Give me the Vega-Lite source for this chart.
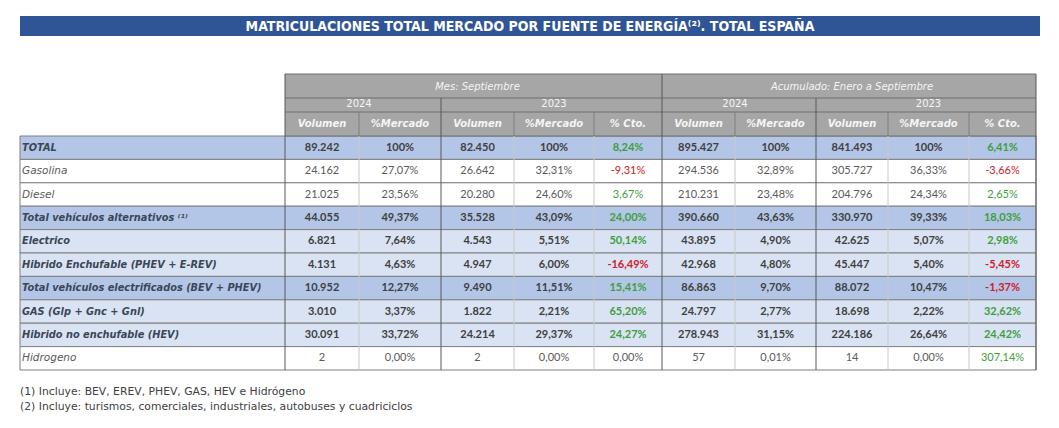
{
  "$schema": "https://vega.github.io/schema/vega-lite/v6.json",
  "width": 1059,
  "height": 428,
  "padding": 0,
  "autosize": {"type": "none"},
  "background": "white",
  "config": {"view": {"stroke": null}, "font": "Lato"},
  "datasets": {
    "filas": [
      {"fila": "TOTAL", "tipo": "total", "m24v": "89.242", "m24p": "100%", "m23v": "82.450", "m23p": "100%", "mcto": "8,24%", "a24v": "895.427", "a24p": "100%", "a23v": "841.493", "a23p": "100%", "acto": "6,41%"},
      {"fila": "Gasolina", "tipo": "combustión", "m24v": "24.162", "m24p": "27,07%", "m23v": "26.642", "m23p": "32,31%", "mcto": "-9,31%", "a24v": "294.536", "a24p": "32,89%", "a23v": "305.727", "a23p": "36,33%", "acto": "-3,66%"},
      {"fila": "Diesel", "tipo": "combustión", "m24v": "21.025", "m24p": "23,56%", "m23v": "20.280", "m23p": "24,60%", "mcto": "3,67%", "a24v": "210.231", "a24p": "23,48%", "a23v": "204.796", "a23p": "24,34%", "acto": "2,65%"},
      {"fila": "Total vehículos alternativos ⁽¹⁾", "tipo": "agregado", "m24v": "44.055", "m24p": "49,37%", "m23v": "35.528", "m23p": "43,09%", "mcto": "24,00%", "a24v": "390.660", "a24p": "43,63%", "a23v": "330.970", "a23p": "39,33%", "acto": "18,03%"},
      {"fila": "Electrico", "tipo": "alternativo", "m24v": "6.821", "m24p": "7,64%", "m23v": "4.543", "m23p": "5,51%", "mcto": "50,14%", "a24v": "43.895", "a24p": "4,90%", "a23v": "42.625", "a23p": "5,07%", "acto": "2,98%"},
      {"fila": "Hibrido Enchufable (PHEV + E-REV)", "tipo": "alternativo", "m24v": "4.131", "m24p": "4,63%", "m23v": "4.947", "m23p": "6,00%", "mcto": "-16,49%", "a24v": "42.968", "a24p": "4,80%", "a23v": "45.447", "a23p": "5,40%", "acto": "-5,45%"},
      {"fila": "Total vehículos electrificados (BEV + PHEV)", "tipo": "agregado", "m24v": "10.952", "m24p": "12,27%", "m23v": "9.490", "m23p": "11,51%", "mcto": "15,41%", "a24v": "86.863", "a24p": "9,70%", "a23v": "88.072", "a23p": "10,47%", "acto": "-1,37%"},
      {"fila": "GAS (Glp + Gnc + Gnl)", "tipo": "alternativo", "m24v": "3.010", "m24p": "3,37%", "m23v": "1.822", "m23p": "2,21%", "mcto": "65,20%", "a24v": "24.797", "a24p": "2,77%", "a23v": "18.698", "a23p": "2,22%", "acto": "32,62%"},
      {"fila": "Hibrido no enchufable (HEV)", "tipo": "alternativo", "m24v": "30.091", "m24p": "33,72%", "m23v": "24.214", "m23p": "29,37%", "mcto": "24,27%", "a24v": "278.943", "a24p": "31,15%", "a23v": "224.186", "a23p": "26,64%", "acto": "24,42%"},
      {"fila": "Hidrogeno", "tipo": "otro", "m24v": "2", "m24p": "0,00%", "m23v": "2", "m23p": "0,00%", "mcto": "0,00%", "a24v": "57", "a24p": "0,01%", "a23v": "14", "a23p": "0,00%", "acto": "307,14%"}
    ],
    "columnas": [
      {"key": "m24v", "col": 0, "cab": "Volumen"},
      {"key": "m24p", "col": 1, "cab": "%Mercado"},
      {"key": "m23v", "col": 2, "cab": "Volumen"},
      {"key": "m23p", "col": 3, "cab": "%Mercado"},
      {"key": "mcto", "col": 4, "cab": "% Cto."},
      {"key": "a24v", "col": 5, "cab": "Volumen"},
      {"key": "a24p", "col": 6, "cab": "%Mercado"},
      {"key": "a23v", "col": 7, "cab": "Volumen"},
      {"key": "a23p", "col": 8, "cab": "%Mercado"},
      {"key": "acto", "col": 9, "cab": "% Cto."}
    ],
    "cabecera": [
      {"t": "Mes: Septiembre", "xc": 2, "nivel": 1, "estilo": "italic"},
      {"t": "Acumulado: Enero a Septiembre", "xc": 7, "nivel": 1, "estilo": "italic"},
      {"t": "2024", "xc": 0.5, "nivel": 2, "estilo": "normal"},
      {"t": "2023", "xc": 3, "nivel": 2, "estilo": "normal"},
      {"t": "2024", "xc": 5.5, "nivel": 2, "estilo": "normal"},
      {"t": "2023", "xc": 8, "nivel": 2, "estilo": "normal"}
    ],
    "lineas": [
      {"b": 0, "top": 2, "bottom": 15, "k": "mayor"},
      {"b": 5, "top": 2, "bottom": 15, "k": "mayor"},
      {"b": 10, "top": 2, "bottom": 15, "k": "mayor"},
      {"b": 2, "top": 3, "bottom": 15, "k": "mayor"},
      {"b": 7, "top": 3, "bottom": 15, "k": "mayor"},
      {"b": 1, "top": 4, "bottom": 5, "k": "cab"},
      {"b": 3, "top": 4, "bottom": 5, "k": "cab"},
      {"b": 4, "top": 4, "bottom": 5, "k": "cab"},
      {"b": 6, "top": 4, "bottom": 5, "k": "cab"},
      {"b": 8, "top": 4, "bottom": 5, "k": "cab"},
      {"b": 9, "top": 4, "bottom": 5, "k": "cab"},
      {"b": 1, "top": 5, "bottom": 15, "k": "menor"},
      {"b": 3, "top": 5, "bottom": 15, "k": "menor"},
      {"b": 4, "top": 5, "bottom": 15, "k": "menor"},
      {"b": 6, "top": 5, "bottom": 15, "k": "menor"},
      {"b": 8, "top": 5, "bottom": 15, "k": "menor"},
      {"b": 9, "top": 5, "bottom": 15, "k": "menor"}
    ],
    "notas": [
      {"t": "(1) Incluye: BEV, EREV, PHEV, GAS, HEV e Hidrógeno", "n": 16},
      {"t": "(2) Incluye: turismos, comerciales, industriales, autobuses y cuadriciclos", "n": 17}
    ]
  },
  "resolve": {"scale": {"x": "independent", "y": "independent", "color": "independent"}},
  "layer": [
    {
      "data": {"values": [{}]},
      "mark": {"type": "rect", "color": "#2F5597"},
      "encoding": {
        "x": {"datum": -1, "type": "quantitative", "axis": null, "scale": {"type": "linear", "domain": [-1, 0, 1, 2, 3, 4, 5, 6, 7, 8, 9, 10], "range": [20, 285, 359, 441, 514, 594, 662, 735, 816, 888, 969, 1036], "nice": false, "zero": false}},
        "x2": {"datum": 10.06},
        "y": {"datum": 0, "type": "quantitative", "axis": null, "scale": {"type": "linear", "domain": [0, 1, 2, 3, 4, 5, 15, 16, 17], "range": [16, 36, 74, 98, 112, 136, 370, 392, 407], "nice": false, "zero": false}},
        "y2": {"datum": 1}
      }
    },
    {
      "data": {"values": [{"t": "MATRICULACIONES TOTAL MERCADO POR FUENTE DE ENERGÍA⁽²⁾. TOTAL ESPAÑA"}]},
      "mark": {"type": "text", "font": "DejaVu Sans Condensed", "fontWeight": "bold", "fontSize": 14, "color": "white", "align": "center", "baseline": "middle"},
      "encoding": {
        "text": {"field": "t"},
        "x": {"datum": 3.2, "type": "quantitative", "axis": null, "scale": {"type": "linear", "domain": [-1, 0, 1, 2, 3, 4, 5, 6, 7, 8, 9, 10], "range": [20, 285, 359, 441, 514, 594, 662, 735, 816, 888, 969, 1036], "nice": false, "zero": false}},
        "y": {"datum": 0.55, "type": "quantitative", "axis": null, "scale": {"type": "linear", "domain": [0, 1, 2, 3, 4, 5, 15, 16, 17], "range": [16, 36, 74, 98, 112, 136, 370, 392, 407], "nice": false, "zero": false}}
      }
    },
    {
      "data": {"name": "filas"},
      "mark": {"type": "rect", "stroke": "#7F7F7F", "strokeWidth": 1},
      "encoding": {
        "x": {"datum": -1, "type": "quantitative", "axis": null, "scale": {"type": "linear", "domain": [-1, 0, 1, 2, 3, 4, 5, 6, 7, 8, 9, 10], "range": [20, 285, 359, 441, 514, 594, 662, 735, 816, 888, 969, 1036], "nice": false, "zero": false}},
        "x2": {"datum": 10},
        "y": {"field": "fila", "type": "nominal", "axis": null, "sort": null, "scale": {"type": "band", "domain": ["TOTAL", "Gasolina", "Diesel", "Total vehículos alternativos ⁽¹⁾", "Electrico", "Hibrido Enchufable (PHEV + E-REV)", "Total vehículos electrificados (BEV + PHEV)", "GAS (Glp + Gnc + Gnl)", "Hibrido no enchufable (HEV)", "Hidrogeno"], "range": [136, 370], "paddingInner": 0, "paddingOuter": 0}},
        "fill": {"field": "tipo", "type": "nominal", "legend": null, "scale": {"domain": ["total", "combustión", "agregado", "alternativo", "otro"], "range": ["#B4C6E7", "#FFFFFF", "#B4C6E7", "#DAE3F3", "#FFFFFF"]}}
      }
    },
    {
      "data": {"values": [{}]},
      "mark": {"type": "rect", "color": "#A6A6A6"},
      "encoding": {
        "x": {"datum": 0, "type": "quantitative", "axis": null, "scale": {"type": "linear", "domain": [-1, 0, 1, 2, 3, 4, 5, 6, 7, 8, 9, 10], "range": [20, 285, 359, 441, 514, 594, 662, 735, 816, 888, 969, 1036], "nice": false, "zero": false}},
        "x2": {"datum": 10},
        "y": {"datum": 2, "type": "quantitative", "axis": null, "scale": {"type": "linear", "domain": [0, 1, 2, 3, 4, 5, 15, 16, 17], "range": [16, 36, 74, 98, 112, 136, 370, 392, 407], "nice": false, "zero": false}},
        "y2": {"datum": 5}
      }
    },
    {
      "data": {"values": [{"h": 2}, {"h": 3}, {"h": 4}, {"h": 5}]},
      "mark": {"type": "rule", "color": "#6F6F6F", "strokeWidth": 1},
      "encoding": {
        "x": {"datum": 0, "type": "quantitative", "axis": null, "scale": {"type": "linear", "domain": [-1, 0, 1, 2, 3, 4, 5, 6, 7, 8, 9, 10], "range": [20, 285, 359, 441, 514, 594, 662, 735, 816, 888, 969, 1036], "nice": false, "zero": false}},
        "x2": {"datum": 10},
        "y": {"field": "h", "type": "quantitative", "axis": null, "scale": {"type": "linear", "domain": [0, 1, 2, 3, 4, 5, 15, 16, 17], "range": [16, 36, 74, 98, 112, 136, 370, 392, 407], "nice": false, "zero": false}}
      }
    },
    {
      "data": {"name": "lineas"},
      "mark": {"type": "rule", "strokeWidth": 1},
      "encoding": {
        "x": {"field": "b", "type": "quantitative", "axis": null, "scale": {"type": "linear", "domain": [-1, 0, 1, 2, 3, 4, 5, 6, 7, 8, 9, 10], "range": [20, 285, 359, 441, 514, 594, 662, 735, 816, 888, 969, 1036], "nice": false, "zero": false}},
        "y": {"field": "top", "type": "quantitative", "axis": null, "scale": {"type": "linear", "domain": [0, 1, 2, 3, 4, 5, 15, 16, 17], "range": [16, 36, 74, 98, 112, 136, 370, 392, 407], "nice": false, "zero": false}},
        "y2": {"field": "bottom"},
        "color": {"field": "k", "type": "nominal", "legend": null, "scale": {"domain": ["mayor", "cab", "menor"], "range": ["#595959", "#7F7F7F", "#C8C8C8"]}}
      }
    },
    {
      "data": {"name": "filas"},
      "transform": [{"filter": "datum.tipo === 'combustión' || datum.tipo === 'otro'"}],
      "mark": {"type": "text", "font": "DejaVu Sans", "fontSize": 10.5, "fontStyle": "italic", "color": "#595959", "align": "left", "baseline": "middle", "dx": 2},
      "encoding": {
        "text": {"field": "fila"},
        "x": {"datum": -1, "type": "quantitative", "axis": null, "scale": {"type": "linear", "domain": [-1, 0, 1, 2, 3, 4, 5, 6, 7, 8, 9, 10], "range": [20, 285, 359, 441, 514, 594, 662, 735, 816, 888, 969, 1036], "nice": false, "zero": false}},
        "y": {"field": "fila", "type": "nominal", "axis": null, "sort": null, "scale": {"type": "band", "domain": ["TOTAL", "Gasolina", "Diesel", "Total vehículos alternativos ⁽¹⁾", "Electrico", "Hibrido Enchufable (PHEV + E-REV)", "Total vehículos electrificados (BEV + PHEV)", "GAS (Glp + Gnc + Gnl)", "Hibrido no enchufable (HEV)", "Hidrogeno"], "range": [136, 370], "paddingInner": 0, "paddingOuter": 0}}
      }
    },
    {
      "data": {"name": "filas"},
      "transform": [{"filter": "datum.tipo !== 'combustión' && datum.tipo !== 'otro'"}],
      "mark": {"type": "text", "font": "DejaVu Sans", "fontSize": 9.8, "fontStyle": "italic", "fontWeight": "bold", "color": "#3B4656", "align": "left", "baseline": "middle", "dx": 2},
      "encoding": {
        "text": {"field": "fila"},
        "x": {"datum": -1, "type": "quantitative", "axis": null, "scale": {"type": "linear", "domain": [-1, 0, 1, 2, 3, 4, 5, 6, 7, 8, 9, 10], "range": [20, 285, 359, 441, 514, 594, 662, 735, 816, 888, 969, 1036], "nice": false, "zero": false}},
        "y": {"field": "fila", "type": "nominal", "axis": null, "sort": null, "scale": {"type": "band", "domain": ["TOTAL", "Gasolina", "Diesel", "Total vehículos alternativos ⁽¹⁾", "Electrico", "Hibrido Enchufable (PHEV + E-REV)", "Total vehículos electrificados (BEV + PHEV)", "GAS (Glp + Gnc + Gnl)", "Hibrido no enchufable (HEV)", "Hidrogeno"], "range": [136, 370], "paddingInner": 0, "paddingOuter": 0}}
      }
    },
    {
      "data": {"name": "filas"},
      "transform": [
        {"filter": "datum.tipo === 'combustión' || datum.tipo === 'otro'"},
        {"fold": ["m24v", "m24p", "m23v", "m23p", "mcto", "a24v", "a24p", "a23v", "a23p", "acto"], "as": ["key", "valor"]},
        {"lookup": "key", "from": {"data": {"name": "columnas"}, "key": "key", "fields": ["col"]}}
      ],
      "mark": {"type": "text", "fontSize": 11, "align": "center", "baseline": "middle"},
      "encoding": {
        "text": {"field": "valor"},
        "x": {"field": "col", "type": "quantitative", "axis": null, "scale": {"type": "linear", "domain": [-0.5, 0.5, 1.5, 2.5, 3.5, 4.5, 5.5, 6.5, 7.5, 8.5, 9.5], "range": [285, 359, 441, 514, 594, 662, 735, 816, 888, 969, 1036], "nice": false, "zero": false}},
        "y": {"field": "fila", "type": "nominal", "axis": null, "sort": null, "scale": {"type": "band", "domain": ["TOTAL", "Gasolina", "Diesel", "Total vehículos alternativos ⁽¹⁾", "Electrico", "Hibrido Enchufable (PHEV + E-REV)", "Total vehículos electrificados (BEV + PHEV)", "GAS (Glp + Gnc + Gnl)", "Hibrido no enchufable (HEV)", "Hidrogeno"], "range": [136, 370], "paddingInner": 0, "paddingOuter": 0}},
        "color": {
          "condition": [
            {"test": "(datum.col === 4 || datum.col === 9) && indexof(datum.valor, '-') === 0", "value": "#D0202A"},
            {"test": "(datum.col === 4 || datum.col === 9) && datum.valor !== '0,00%'", "value": "#3E9E3E"}
          ],
          "value": "#5A5A5A"
        }
      }
    },
    {
      "data": {"name": "filas"},
      "transform": [
        {"filter": "datum.tipo !== 'combustión' && datum.tipo !== 'otro'"},
        {"fold": ["m24v", "m24p", "m23v", "m23p", "mcto", "a24v", "a24p", "a23v", "a23p", "acto"], "as": ["key", "valor"]},
        {"lookup": "key", "from": {"data": {"name": "columnas"}, "key": "key", "fields": ["col"]}}
      ],
      "mark": {"type": "text", "fontSize": 11, "fontWeight": "bold", "align": "center", "baseline": "middle"},
      "encoding": {
        "text": {"field": "valor"},
        "x": {"field": "col", "type": "quantitative", "axis": null, "scale": {"type": "linear", "domain": [-0.5, 0.5, 1.5, 2.5, 3.5, 4.5, 5.5, 6.5, 7.5, 8.5, 9.5], "range": [285, 359, 441, 514, 594, 662, 735, 816, 888, 969, 1036], "nice": false, "zero": false}},
        "y": {"field": "fila", "type": "nominal", "axis": null, "sort": null, "scale": {"type": "band", "domain": ["TOTAL", "Gasolina", "Diesel", "Total vehículos alternativos ⁽¹⁾", "Electrico", "Hibrido Enchufable (PHEV + E-REV)", "Total vehículos electrificados (BEV + PHEV)", "GAS (Glp + Gnc + Gnl)", "Hibrido no enchufable (HEV)", "Hidrogeno"], "range": [136, 370], "paddingInner": 0, "paddingOuter": 0}},
        "color": {
          "condition": [
            {"test": "(datum.col === 4 || datum.col === 9) && indexof(datum.valor, '-') === 0", "value": "#D0202A"},
            {"test": "(datum.col === 4 || datum.col === 9) && datum.valor !== '0,00%'", "value": "#3E9E3E"}
          ],
          "value": "#404040"
        }
      }
    },
    {
      "data": {"name": "cabecera"},
      "transform": [{"filter": "datum.estilo === 'italic'"}],
      "mark": {"type": "text", "font": "DejaVu Sans", "fontSize": 10, "fontStyle": "italic", "color": "#F5F5F5", "align": "center", "baseline": "middle"},
      "encoding": {
        "text": {"field": "t"},
        "x": {"field": "xc", "type": "quantitative", "axis": null, "scale": {"type": "linear", "domain": [-0.5, 0.5, 1.5, 2.5, 3.5, 4.5, 5.5, 6.5, 7.5, 8.5, 9.5], "range": [285, 359, 441, 514, 594, 662, 735, 816, 888, 969, 1036], "nice": false, "zero": false}},
        "y": {"field": "nivel", "type": "quantitative", "axis": null, "scale": {"type": "linear", "domain": [1, 2, 3], "range": [87, 104, 124], "nice": false, "zero": false}}
      }
    },
    {
      "data": {"name": "cabecera"},
      "transform": [{"filter": "datum.estilo === 'normal'"}],
      "mark": {"type": "text", "font": "DejaVu Sans", "fontSize": 10, "color": "#F5F5F5", "align": "center", "baseline": "middle"},
      "encoding": {
        "text": {"field": "t"},
        "x": {"field": "xc", "type": "quantitative", "axis": null, "scale": {"type": "linear", "domain": [-0.5, 0.5, 1.5, 2.5, 3.5, 4.5, 5.5, 6.5, 7.5, 8.5, 9.5], "range": [285, 359, 441, 514, 594, 662, 735, 816, 888, 969, 1036], "nice": false, "zero": false}},
        "y": {"field": "nivel", "type": "quantitative", "axis": null, "scale": {"type": "linear", "domain": [1, 2, 3], "range": [87, 104, 124], "nice": false, "zero": false}}
      }
    },
    {
      "data": {"name": "columnas"},
      "mark": {"type": "text", "font": "DejaVu Sans", "fontSize": 10, "fontStyle": "italic", "fontWeight": "bold", "color": "#F5F5F5", "align": "center", "baseline": "middle"},
      "encoding": {
        "text": {"field": "cab"},
        "x": {"field": "col", "type": "quantitative", "axis": null, "scale": {"type": "linear", "domain": [-0.5, 0.5, 1.5, 2.5, 3.5, 4.5, 5.5, 6.5, 7.5, 8.5, 9.5], "range": [285, 359, 441, 514, 594, 662, 735, 816, 888, 969, 1036], "nice": false, "zero": false}},
        "y": {"datum": 3, "type": "quantitative", "axis": null, "scale": {"type": "linear", "domain": [1, 2, 3], "range": [87, 104, 124], "nice": false, "zero": false}}
      }
    },
    {
      "data": {"name": "notas"},
      "mark": {"type": "text", "font": "DejaVu Sans", "fontSize": 10.8, "color": "#404040", "align": "left", "baseline": "middle"},
      "encoding": {
        "text": {"field": "t"},
        "x": {"datum": -1, "type": "quantitative", "axis": null, "scale": {"type": "linear", "domain": [-1, 0, 1, 2, 3, 4, 5, 6, 7, 8, 9, 10], "range": [20, 285, 359, 441, 514, 594, 662, 735, 816, 888, 969, 1036], "nice": false, "zero": false}},
        "y": {"field": "n", "type": "quantitative", "axis": null, "scale": {"type": "linear", "domain": [0, 1, 2, 3, 4, 5, 15, 16, 17], "range": [16, 36, 74, 98, 112, 136, 370, 392, 407], "nice": false, "zero": false}}
      }
    }
  ]
}
